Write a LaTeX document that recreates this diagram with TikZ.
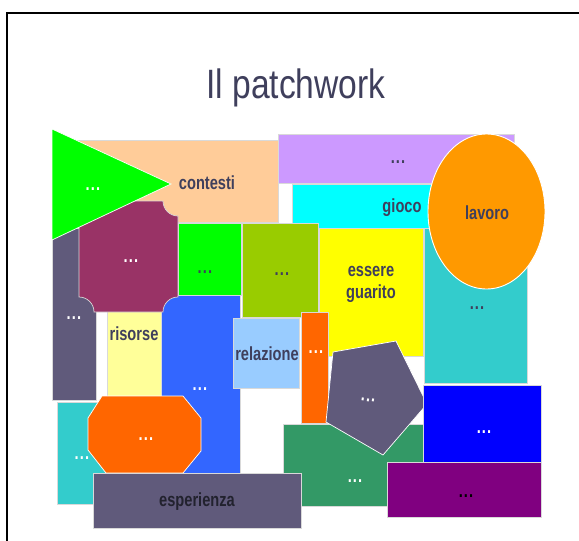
\documentclass[tikz,border=0pt]{standalone}
\usepackage{fontspec}
\setmainfont{Liberation Sans}
\definecolor{peach}{HTML}{FFCC99}
\definecolor{lavender}{HTML}{CC99FF}
\definecolor{cyanc}{HTML}{00FFFF}
\definecolor{tealc}{HTML}{33CCCC}
\definecolor{ellorange}{HTML}{FF9900}
\definecolor{slate}{HTML}{605A7B}
\definecolor{lyellow}{HTML}{FFFF99}
\definecolor{blueone}{HTML}{3366FF}
\definecolor{maroon}{HTML}{993366}
\definecolor{greenc}{HTML}{00FF00}
\definecolor{olive}{HTML}{99CC00}
\definecolor{yellowc}{HTML}{FFFF00}
\definecolor{lblue}{HTML}{99CCFF}
\definecolor{orangec}{HTML}{FF6600}
\definecolor{seagreen}{HTML}{339966}
\definecolor{bluetwo}{HTML}{0000FF}
\definecolor{purplec}{HTML}{800080}
\definecolor{txt}{HTML}{3F3F5C}
\definecolor{darktxt}{HTML}{22222E}
\newcommand\squeeze[1]{\scalebox{0.77}[1]{#1}}
\newcommand\tdots{\scalebox{0.77}[1]{.\kern1.5pt.\kern1.5pt.}}
\tikzset{
  patch/.style={draw=white!85!black, line width=0.7pt},
  lbl/.style={font=\fontsize{19}{21}\selectfont\bfseries, text=txt, inner sep=0pt, align=center},
  dotsw/.style={font=\fontsize{19}{21}\selectfont\bfseries, text=white, inner sep=0pt},
  dotsd/.style={font=\fontsize{19}{21}\selectfont\bfseries, text=txt, inner sep=0pt},
}
\begin{document}
\begin{tikzpicture}[x=1pt,y=-1pt]
\useasboundingbox (0,0) rectangle (579,541);
% frame
\draw[line width=2pt] (7,541) -- (7,13) -- (579,13);
% title
\node[font=\fontsize{41}{44}\selectfont, text=txt, anchor=base, inner sep=0pt] (title) at (296,98) {\scalebox{0.82}[1]{Il patchwork}};

% background patches
\filldraw[patch, fill=peach] (60,140) rectangle (278,222);
\filldraw[patch, fill=lavender] (278,134) rectangle (514,183);
\filldraw[patch, fill=cyanc] (292,184) rectangle (440,228);
\filldraw[patch, fill=tealc] (424,228) rectangle (527,383);
\filldraw[draw=white, line width=0.9pt, fill=ellorange] (486.5,211.5) ellipse [x radius=58.5, y radius=77.5];
\filldraw[patch, fill=slate] (52,228) rectangle (96,400);
\filldraw[patch, fill=lyellow] (107,300) rectangle (161,396);
\filldraw[patch, fill=blueone] (161,290) rectangle (240,473);
% maroon plaque
\filldraw[patch, fill=maroon] (94,201) -- (163,201)
  .. controls (163,209.3) and (169.7,216) .. (178,216) -- (178,297)
  .. controls (169.7,297) and (163,303.7) .. (163,312) -- (94,312)
  .. controls (94,303.7) and (87.3,297) .. (79,297) -- (79,216)
  .. controls (87.3,216) and (94,209.3) .. cycle;
% green triangle
\filldraw[patch, draw=white, fill=greenc] (52,129) -- (171,184) -- (52,240) -- cycle;
\filldraw[patch, fill=greenc] (178,223) rectangle (241,295);
\filldraw[patch, fill=olive] (242,223) rectangle (318,317);
\filldraw[patch, fill=yellowc] (319,228) rectangle (423,356);
\filldraw[patch, fill=lblue] (233,318) rectangle (299,388);
\filldraw[patch, fill=orangec] (301,312) rectangle (328,423);
\filldraw[patch, fill=tealc] (57,402) rectangle (110,504);
\filldraw[patch, draw=white, fill=orangec] (102,396) -- (183,396) -- (201,418) -- (201,451) -- (183,473) -- (106,473) -- (88,450) -- (88,418) -- cycle;
\filldraw[patch, fill=seagreen] (283,424) rectangle (430,506);
\filldraw[patch, draw=white, fill=slate] (333,352) -- (396,341) -- (427,404) -- (383,455) -- (326,422) -- cycle;
\filldraw[patch, fill=bluetwo] (423,385) rectangle (541,462);
\filldraw[patch, fill=purplec] (387,462) rectangle (541,517);
\filldraw[patch, fill=slate] (93,473) rectangle (301,528);

% labels
\node[dotsw] (t1) at (93,189) {\tdots};
\node[lbl] (contesti) at (207,183) {\squeeze{contesti}};
\node[dotsd] (t2) at (398,162) {\tdots};
\node[lbl] (gioco) at (402,208) {\squeeze{gioco}};
\node[lbl] (lavoro) at (487,213) {\squeeze{lavoro}};
\node[dotsd] (t3) at (477,308) {\tdots};
\node[lbl] (essere) at (371,284) {\squeeze{essere}\\[1pt]\squeeze{guarito}};
\node[dotsd] (t4) at (282,274) {\tdots};
\node[dotsd] (t5) at (205,272) {\tdots};
\node[dotsw] (t6) at (131,261) {\tdots};
\node[dotsw] (t7) at (74,318) {\tdots};
\node[lbl] (risorse) at (134,334) {\squeeze{risorse}};
\node[dotsw] (t8) at (200,389) {\tdots};
\node[lbl] (relazione) at (267,354) {\squeeze{relazione}};
\node[dotsw] (t9) at (316,352) {\tdots};
\node[dotsw, rotate=-8] (t10) at (368,400) {\tdots};
\node[dotsw] (t11) at (82,458) {\tdots};
\node[dotsw] (t12) at (146,439) {\tdots};
\node[dotsw] (t13) at (355,481) {\tdots};
\node[dotsw] (t14) at (484,432) {\tdots};
\node[dotsd, text=black] (t15) at (466,496) {\tdots};
\node[lbl, text=darktxt] (esperienza) at (197,502) {\squeeze{esperienza}};
\end{tikzpicture}
\end{document}
